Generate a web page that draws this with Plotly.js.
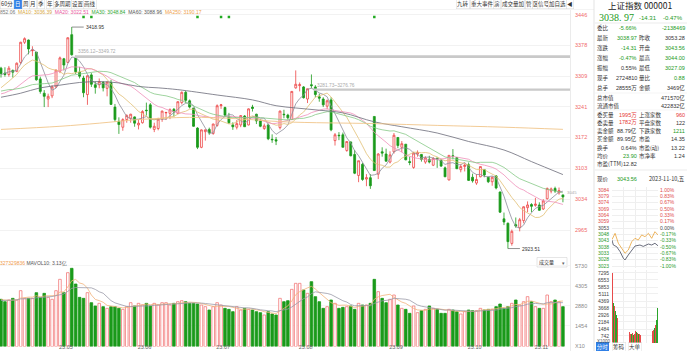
<!DOCTYPE html>
<html><head><meta charset="utf-8">
<script src="https://cdn.plot.ly/plotly-3.0.1.min.js"></script>
<style>html,body{margin:0;padding:0;background:#fff;overflow:hidden}#chart{width:687px;height:351px}</style>
</head><body><div id="chart"></div>
<script>
// ---------------- DATA ----------------
const openP = [3327,3316,3313,3322,3320,3340,3385,3390,3366,3363,3303,3271,3258,3265,3285,3320,3348,3340,3402,3350,3318,3305,3268,3312,3290,3290,3295,3282,3295,3240,3208,3195,3212,3215,3218,3200,3205,3233,3245,3190,3192,3213,3227,3226,3235,3226,3250,3273,3254,3238,3193,3150,3185,3190,3181,3199,3243,3239,3219,3200,3195,3200,3220,3200,3240,3224,3209,3192,3200,3168,3167,3194,3224,3222,3212,3283,3288,3285,3258,3290,3285,3263,3258,3242,3256,3165,3177,3178,3143,3162,3134,3087,3112,3079,3082,3219,3090,3140,3135,3117,3140,3172,3150,3157,3118,3105,3135,3134,3117,3123,3110,3126,3121,3104,3077,3131,3127,3100,3107,3111,3083,3070,3084,3100,3083,3073,3086,3050,2990,2980,2935,2977,2970,2986,3015,3022,3020,3021,3012,3035,3052,3058,3048,3043.56];
const highP = [3330,3329,3332,3324,3340,3386,3396,3391,3376,3363,3308,3278,3270,3289,3323,3353,3350,3396,3418.95,3355,3330,3310,3311,3316,3297,3304,3298,3297,3301,3247,3217,3215,3224,3225,3219,3212,3233,3250,3249,3205,3216,3232,3229,3237,3238,3253,3275,3276,3257,3238,3195,3190,3190,3194,3203,3246,3247,3241,3227,3206,3211,3222,3222,3237,3245,3225,3213,3203,3203,3179,3173,3232,3234,3225,3276,3322,3295,3287,3281,3313,3289,3270,3262,3257,3262,3182,3184,3183,3163,3163,3144,3120,3115,3090,3090,3219,3137,3150,3147,3141,3182,3173,3164,3157,3129,3140,3143,3135,3130,3131,3128,3126,3124,3107,3132,3146,3128,3112,3114,3116,3091,3090,3107,3101,3084,3085,3088,3051,3004,2982,2966,2993,2992,3018,3029,3025,3037,3027,3034,3060,3060,3062,3060,3044.00];
const lowP = [3306,3308,3308,3306,3318,3336,3381,3358,3354,3299,3270,3240,3240,3260,3283,3316,3322,3338,3355,3314,3304,3262,3245,3285,3270,3282,3275,3264,3245,3207,3180,3187,3205,3205,3196,3190,3203,3221,3192,3184,3188,3207,3211,3213,3219,3225,3246,3249,3237,3196,3146,3148,3165,3178,3178,3196,3236,3219,3202,3189,3190,3195,3196,3199,3230,3202,3195,3189,3166,3160,3155,3190,3215,3212,3211,3281,3275,3259,3249,3282,3262,3252,3240,3235,3186,3154,3166,3150,3140,3130,3090,3072,3075,3063,3057,3098,3079,3129,3118,3114,3136,3148,3139,3121,3110,3102,3129,3118,3113,3114,3108,3104,3106,3084,3076,3123,3102,3094,3096,3075,3071,3066,3083,3083,3070,3064,3056,3003,2976,2923.51,2930,2970,2962,2980,3005,3005,3017,3008,3010,3033,3047,3048,3044,3027.09];
const closeP = [3315,3313,3327,3318,3338,3385,3393,3370,3367,3301,3275,3264,3264,3285,3323,3350,3334,3395,3357,3319,3309,3272,3310,3291,3284,3297,3283,3296,3246,3212,3201,3212,3221,3224,3204,3204,3230,3232,3195,3197,3213,3231,3228,3234,3229,3252,3273,3255,3240,3197,3150,3189,3189,3182,3202,3243,3245,3222,3205,3196,3203,3221,3196,3236,3237,3209,3197,3198,3169,3167,3164,3231,3223,3216,3275,3291,3290,3261,3281,3288,3268,3260,3245,3254,3189,3178,3176,3150,3163,3131,3092,3120,3078,3082,3064,3098,3135,3137,3119,3133,3177,3154,3158,3122,3116,3137,3138,3123,3126,3117,3125,3124,3108,3084,3132,3130,3102,3107,3110,3076,3075,3078,3107,3088,3073,3083,3059,3005,2983,2939,2962,2974,2988,3017,3021,3018,3023,3009,3030,3058,3057,3052,3053.28,3038.97];
const volume = [3346,3178,3296,3415,3296,3959,3415,3415,3415,3816,3486,3770,3486,3346,3959,4762,3816,5234,5543,4430,3486,3415,3816,3107,2872,3060,2824,2706,2824,2824,2706,2635,2824,3107,2872,3060,2942,3060,2872,3060,2942,3107,3107,2942,3060,3178,3249,3178,3060,3060,3013,2942,2824,2588,2824,3107,2942,2706,2635,2470,2824,2588,2706,2635,2588,2470,2399,2234,2470,2305,2234,3415,3178,3249,4053,4479,4479,4006,3770,4597,3533,3178,2706,2824,3296,3060,2706,2777,2824,2872,2635,3060,2942,2942,3060,4762,3888,3415,3107,3346,3651,2942,2706,2635,2352,2872,2399,2541,2635,2872,2706,2635,2352,2352,2635,2588,2470,2305,2470,2588,2541,2541,2706,2588,2635,2635,2824,3013,2706,2824,3060,3296,2942,3178,3533,3178,2824,2706,2706,3651,3178,3296,3178,2824];
// closes / volumes before the visible window (needed for the moving averages)
const priorClose = [3258,3280,3312,3310,3328,3322,3285,3283,3276,3230,3268,3245,3263,3226,3250,3234,3256,3265,3286,3265,3251,3245,3240,3261,3273,3296,3312,3312,3327];
const priorVol = [3100,3200,3300,3150,3250,3400,3300,3350,3200];
// long averages
const ma60Idx = [0,5,10,15,20,25,30,35,40,45,55,64,70,75,81,87,95,102,111,119,128,135,143];
const ma60Val = [3262,3271,3283,3289,3295,3297,3294,3286,3283,3279,3267,3256,3243,3238,3233,3227,3207,3196,3182,3163,3144,3118,3089];
const ma250Idx = [0,15,25,35,48,60,72,95,111,128,143];
const ma250Val = [3190,3197,3204,3212,3217,3214,3207,3203,3199,3195,3190.17];
const monthIdx = [15,35,55,76,99,119,136];
const monthLabels = ['23.05','23.06','23.07','23.08','23.09','23.10','23.11'];
const priceTicks = [3446,3378,3309,3241,3172,3103,3034,2965];
const volTicks = [5730,4305,2880,1454,0];
const volTickText = ['5730','4305','2880','1454','X10'];
const eventIdx = [21,23,50,56,58,95];
// intraday (minutes from open)
const intraMin = [0,7,24,42,59,68,85,103,120,146,163,190,207,224,240];
const intraPrice = [3043.5,3039.6,3038.3,3034.3,3029,3027.6,3031.6,3035.6,3038.8,3039.6,3038.5,3040.4,3039.6,3041,3039];
const intraLeadMin = [0,7,16,33,50,68,85,103,120,137,155,172,190,207,224,240];
const intraLead = [3044,3046.3,3049,3041,3037,3033,3035.6,3042.3,3045,3043.6,3047.7,3046.3,3049,3045,3050.3,3047.7];
const intraVol = [7300,4200,3900,3300,2900,2600,2400,2100,1900,1700,1600,1500,1400,1300,1200,1300,1100,1000,1100,950,900,1000,850,900,1300,1100,1000,950,900,850,800,900,850,800,900,1000,850,900,950,1000,1100,1200,1300,1400,1600,1900,2400,3600];
const intraVolUp = [1,0,1,0,0,1,0,1,1,0,1,0,0,1,1,0,1,0,1,1,0,1,0,1,1,0,1,0,1,1,0,0,1,0,1,1,0,1,0,1,1,0,1,1,0,1,0,0];
const intraTickVals = [3083.81,3078.72,3073.63,3068.54,3063.45,3058.37,3053.28,3048.19,3043.10,3038.01,3032.93,3027.84,3022.75];
const intraTickText = ['3084','3079','3074','3069','3064','3059','3053','3048','3043','3038','3033','3028','3023'];
const intraPctText = ['1.00%','0.83%','0.67%','0.50%','0.33%','0.17%','0.00%','-0.17%','-0.33%','-0.50%','-0.67%','-0.83%','-1.00%'];
const intraVolTicks = [7295,6566,5836,5107,4377,3648,2918,2189,1459,730];
const intraVolText = ['7295','6553','5853','5111','4369','3668','2926','2184','1484','742'];

// ---------------- HELPERS ----------------
const W=687,H=351;
const px=x=>x/W, py=y=>1-y/H;
const N=closeP.length;
const idx=[...Array(N).keys()];
function sma(prior,vals,n){
  const all=prior.concat(vals), P=prior.length, out=[];
  for(let i=0;i<N;i++){let s=0,c=0;for(let k=P+i-n+1;k<=P+i;k++){if(k>=0){s+=all[k];c++;}}out.push(s/c);}
  return out;
}
const RED='#ee4444', GRN='#1b9a1b';
const FONT='Liberation Sans, Arial, Noto Sans CJK SC, sans-serif';
const CJK='Noto Sans CJK SC, Liberation Sans, sans-serif';

const traces=[];
traces.push({type:'candlestick',x:idx,open:openP,high:highP,low:lowP,close:closeP,xaxis:'x',yaxis:'y',
  increasing:{line:{color:RED,width:0.8},fillcolor:'#ffffff'},
  decreasing:{line:{color:GRN,width:0.8},fillcolor:GRN},whiskerwidth:0,hoverinfo:'skip',showlegend:false});
const maDefs=[[5,'#8d8d9a'],[10,'#e2bf73'],[20,'#ef8fba'],[30,'#86c986']];
maDefs.forEach(([n,c])=>traces.push({type:'scatter',mode:'lines',x:idx,y:sma(priorClose,closeP,n),xaxis:'x',yaxis:'y',line:{color:c,width:0.8},hoverinfo:'skip'}));
traces.push({type:'scatter',mode:'lines',x:ma60Idx,y:ma60Val,xaxis:'x',yaxis:'y',line:{color:'#6b6b78',width:0.8,shape:'spline'},hoverinfo:'skip'});
traces.push({type:'scatter',mode:'lines',x:ma250Idx,y:ma250Val,xaxis:'x',yaxis:'y',line:{color:'#f0c58a',width:0.9,shape:'spline'},hoverinfo:'skip'});
traces.push({type:'scatter',mode:'markers',x:eventIdx,y:eventIdx.map(()=>3441.5),xaxis:'x',yaxis:'y',marker:{symbol:'square',size:2.5,color:'#22aa22'},hoverinfo:'skip'});
// volume
const up=idx.map(i=>closeP[i]>=openP[i]);
traces.push({type:'bar',x:idx,y:volume,xaxis:'x',yaxis:'y2',width:0.66,
  marker:{color:up.map(u=>u?'#ffffff':GRN),line:{color:up.map(u=>u?'#f27a7a':GRN),width:0.8}},hoverinfo:'skip'});
traces.push({type:'scatter',mode:'lines',x:idx,y:sma(priorVol,volume,5),xaxis:'x',yaxis:'y2',line:{color:'#f2b27a',width:0.8},hoverinfo:'skip'});
traces.push({type:'scatter',mode:'lines',x:idx,y:sma(priorVol,volume,10),xaxis:'x',yaxis:'y2',line:{color:'#9a9aa8',width:0.8},hoverinfo:'skip'});
// intraday
traces.push({type:'scatter',mode:'lines',x:intraLeadMin,y:intraLead,xaxis:'x2',yaxis:'y3',line:{color:'#e8a33a',width:0.8},hoverinfo:'skip'});
traces.push({type:'scatter',mode:'lines',x:intraMin,y:intraPrice,xaxis:'x2',yaxis:'y3',line:{color:'#44475a',width:0.8},hoverinfo:'skip'});
traces.push({type:'scatter',mode:'lines',x:[0,240],y:[3053.28,3053.28],xaxis:'x2',yaxis:'y5',line:{color:'rgba(0,0,0,0)',width:0},hoverinfo:'skip'});
const ivx=intraVol.map((v,k)=>k*5+2.5);
traces.push({type:'bar',x:ivx,y:intraVol,xaxis:'x3',yaxis:'y4',width:2.6,marker:{color:intraVolUp.map(u=>u?'#e84b4b':'#2aa52a'),line:{width:0}},hoverinfo:'skip'});

// ---------------- ANNOTATIONS / SHAPES ----------------
const ann=[], shp=[];
function T(x,y,text,o={}){ann.push({xref:'paper',yref:'paper',x:px(x),y:py(y),text:text,showarrow:false,
  xanchor:o.a||'left',yanchor:'middle',font:{size:o.s||5.5,color:o.c||'#333',family:o.f||CJK},
  bgcolor:o.bg, bordercolor:o.bc, borderwidth:o.bw||0, borderpad:o.bp||0});}
function L(x0,y0,x1,y1,c,w){shp.push({type:'line',xref:'paper',yref:'paper',x0:px(x0),y0:py(y0),x1:px(x1),y1:py(y1),line:{color:c||'#e3e3e3',width:w||1}});}
function R(x0,y0,x1,y1,fill,line){shp.push({type:'rect',xref:'paper',yref:'paper',x0:px(x0),y0:py(y0),x1:px(x1),y1:py(y1),fillcolor:fill||'rgba(0,0,0,0)',line:{color:line||'#ddd',width:line?0.6:0},layer:'below'});}

// toolbar
[['60分',7],['周',25.5],['月',32.5],['季',40.5],['年',49.5],['多周期',62.5],['设置',78],['画线',90]].forEach(([t,x])=>T(x,4.5,t,{a:'center',c:'#333',bg:'#fff',bc:'#d8d8d8',bw:0.5,bp:0.6}));
T(18,4.5,'日',{a:'center',c:'#fff',bg:'#2f7fe6',bc:'#2f7fe6',bw:0.5,bp:0.6});
[['九转',463],['重大事件',482],['演',497],['成交量加',513],['管',529],['区',536],['信号',544],['加自选',557],['◀',570]].forEach(([t,x])=>T(x,4.5,t,{a:'center',c:'#333',bg:'#fff',bc:'#d8d8d8',bw:0.5,bp:0.6}));
L(0,9.5,594,9.5,'#ececec',0.6);
// MA legend
T(0,11.8,'<span style="color:#777">852.06</span>  <span style="color:#d6a63b">MA10: 3036.39</span>  <span style="color:#e9579c">MA20: 3022.51</span>  <span style="color:#2fa52f">MA30: 3048.84</span>  <span style="color:#555">MA60: 3088.96</span>  <span style="color:#efa24a">MA250: 3190.17</span>',{s:5,f:FONT});
// gaps
shp.push({type:'rect',xref:'x',yref:'y',x0:18.8,x1:144.8,y0:3349.72,y1:3356.12,fillcolor:'#c9c9c9',line:{width:0}});
shp.push({type:'rect',xref:'x',yref:'y',x0:79.6,x1:144.8,y0:3276.76,y1:3281.73,fillcolor:'#c9c9c9',line:{width:0}});
ann.push({xref:'x',yref:'y',x:19.2,y:3364,text:'3356.12~3349.72',showarrow:false,xanchor:'left',yanchor:'middle',font:{size:4.8,color:'#aaa',family:FONT}});
ann.push({xref:'x',yref:'y',x:80,y:3288,text:'3281.73~3276.76',showarrow:false,xanchor:'left',yanchor:'middle',font:{size:4.8,color:'#aaa',family:FONT}});
// extremes
ann.push({xref:'x',yref:'y',x:18,y:3418.95,text:'3418.95',showarrow:true,ax:12,ay:0,arrowhead:0,arrowwidth:0.6,arrowcolor:'#444',xanchor:'left',font:{size:5,color:'#333',family:FONT}});
ann.push({xref:'x',yref:'y',x:129,y:2923.51,text:'2923.51',showarrow:true,ax:12,ay:0,arrowhead:0,arrowwidth:0.6,arrowcolor:'#444',xanchor:'left',font:{size:5,color:'#333',family:FONT}});
ann.push({xref:'x',yref:'y',x:143.6,y:3050,text:'3045',showarrow:false,xanchor:'left',font:{size:4.3,color:'#aaa',family:FONT}});
// volume header
T(0,263,'<span style="color:#ef9a4c">327329836</span> <span style="color:#555">MAVOL10: 3.13亿</span>',{s:5,f:FONT});
R(537,257.5,567,267,'#fff','#d5d5d5');
T(546,262.2,'成交量',{a:'center',s:5,c:'#333'});
T(563,262,'▾',{a:'center',s:5,c:'#666'});
// separators
L(570.5,10,570.5,351,'#e6e6e6',0.8);
L(594,0,594,351,'#dcdcdc',0.8);

// right panel
T(640,5.3,'上证指数 000001',{a:'center',s:8.5,c:'#222'});
T(599,17.8,'3038. 97',{s:10,c:GRN,f:'Liberation Serif, serif'});
T(657,18,'-14.31',{a:'right',s:6,c:GRN,f:FONT});
T(683,18,'-0.47%',{a:'right',s:6,c:GRN,f:FONT});
L(595,23,687,23,'#e6e6e6',0.8);
const D='#333', G=GRN, Rd='#e53935';
const rows=[
 [28,'委比','-5.66%',G,'','-2138469',G],
 [38,'最新','3038.97',G,'昨收','3053.28',D],
 [48,'涨跌','-14.31',G,'开盘','3043.56',G],
 [58,'涨幅','-0.47%',G,'最高','3044.00',G],
 [68,'振幅','0.55%',D,'最低','3027.09',G],
 [78,'现手','2724810',D,'量比','0.88',G],
 [88,'总手','28555万',D,'金额','3469亿',D],
 [98,'总市值','','','','471570亿',D],
 [106,'流通市值','','','','422832亿',D],
 [115,'委买量','1995万',Rd,'上涨家数','960',Rd],
 [123,'委卖量','1782万',Rd,'平盘家数','122',D],
 [131,'卖金额','88.79亿',D,'下跌家数','1211',G],
 [139,'买金额','89.95亿',D,'市盈','14.35',D],
 [148,'换手','0.64%',D,'市盈(动)','13.22',D],
 [156,'均价','23.90',G,'市净率','1.24',D],
 [164,'市盈(TTM)','12.82',D,'','',D]
];
rows.forEach(r=>{T(597,r[0],r[1],{s:5.5});if(r[2])T(637,r[0],r[2],{a:'right',s:5.5,c:r[3],f:FONT});if(r[4])T(639,r[0],r[4],{s:5.5});if(r[5])T(685,r[0],r[5],{a:'right',s:5.5,c:r[6],f:FONT});});
L(595,93,687,93,'#eeeeee',0.6);
L(595,110,687,110,'#eeeeee',0.6);
L(595,170,687,170,'#e6e6e6',0.8);
T(597,179,'现价',{s:5.5});
T(637,179,'3043.56',{a:'right',s:5.5,c:G,f:FONT});
T(685,179,'2023-11-10,五',{a:'right',s:5.5,c:'#333'});
T(602,347,'分时',{a:'center',s:5.5,c:'#fff',bg:'#2f7fe6',bp:0.8});
T(619,347,'筹码',{a:'center',s:5.5,c:'#333',bc:'#ddd',bw:0.5,bp:0.6});
T(635,347,'大单',{a:'center',s:5.5,c:'#333',bc:'#ddd',bw:0.5,bp:0.6});
T(597,341.5,'X1000',{s:4.5,c:'#555',f:FONT});

const colTick=intraTickText.map((t,k)=>'<span style="color:'+(k<6?'#e04a4a':(k==6?'#444':'#2a9a2a'))+'">'+t+'</span>');
const colPct=intraPctText.map((t,k)=>'<span style="color:'+(k<6?'#e04a4a':(k==6?'#444':'#2a9a2a'))+'">'+t+'</span>');

const layout={width:W,height:H,margin:{l:0,r:0,t:0,b:0},paper_bgcolor:'#fff',plot_bgcolor:'rgba(0,0,0,0)',showlegend:false,
 font:{family:FONT,size:5.5,color:'#333'},bargap:0,hovermode:false,
 xaxis:{domain:[0,px(570)],range:[-0.254,144.8],anchor:'y2',rangeslider:{visible:false},tickvals:monthIdx,ticktext:monthLabels,
   tickfont:{size:5.5,color:'#666'},ticks:'',showgrid:false,zeroline:false,showline:false,fixedrange:true,ticklabelshift:6,ticklabelstandoff:-4},
 yaxis:{domain:[py(255),py(11)],range:[2909.1,3454.9],side:'right',anchor:'x',tickvals:priceTicks,ticktext:priceTicks.map(String),
   tickfont:{size:5.5,color:'#f06a6a'},gridcolor:'#efefef',gridwidth:0.8,zeroline:false,ticks:'',ticklabelstandoff:4,fixedrange:true},
 yaxis2:{domain:[py(346.5),py(258)],range:[0,6275],side:'right',anchor:'x',tickvals:volTicks,ticktext:volTickText,
   tickfont:{size:5.5,color:'#8a8a8a'},gridcolor:'#f2f2f2',gridwidth:0.8,zeroline:false,ticks:'',ticklabelstandoff:4,fixedrange:true},
 xaxis2:{domain:[px(612),px(658)],range:[0,240],anchor:'y3',showticklabels:false,tickvals:[0,60,120,180,240],showgrid:true,gridcolor:'#eeeeee',zeroline:false,ticks:'',showline:false},
 xaxis3:{domain:[px(612),px(658)],range:[0,240],anchor:'y4',showticklabels:false,tickvals:[0,60,120,180,240],showgrid:true,gridcolor:'#eeeeee',zeroline:false,ticks:'',showline:false},
 yaxis3:{domain:[py(268),py(187)],range:[3021.14,3086.22],anchor:'x2',side:'left',tickvals:intraTickVals,ticktext:colTick,tickfont:{size:5},gridcolor:'#efefef',zeroline:false,ticks:'',ticklabelstandoff:2},
 yaxis5:{domain:[py(268),py(187)],range:[3021.14,3086.22],anchor:'x2',overlaying:'y3',side:'right',tickvals:intraTickVals,ticktext:colPct,tickfont:{size:5},showgrid:false,zeroline:false,ticks:'',ticklabelstandoff:1},
 yaxis4:{domain:[py(343),py(270)],range:[0,7607],anchor:'x3',side:'left',tickvals:intraVolTicks,ticktext:intraVolText,tickfont:{size:5,color:'#444'},gridcolor:'#f0f0f0',zeroline:false,ticks:'',ticklabelstandoff:2},
 annotations:ann,shapes:shp};
Plotly.newPlot('chart',traces,layout,{staticPlot:true,displayModeBar:false});
</script></body></html>
